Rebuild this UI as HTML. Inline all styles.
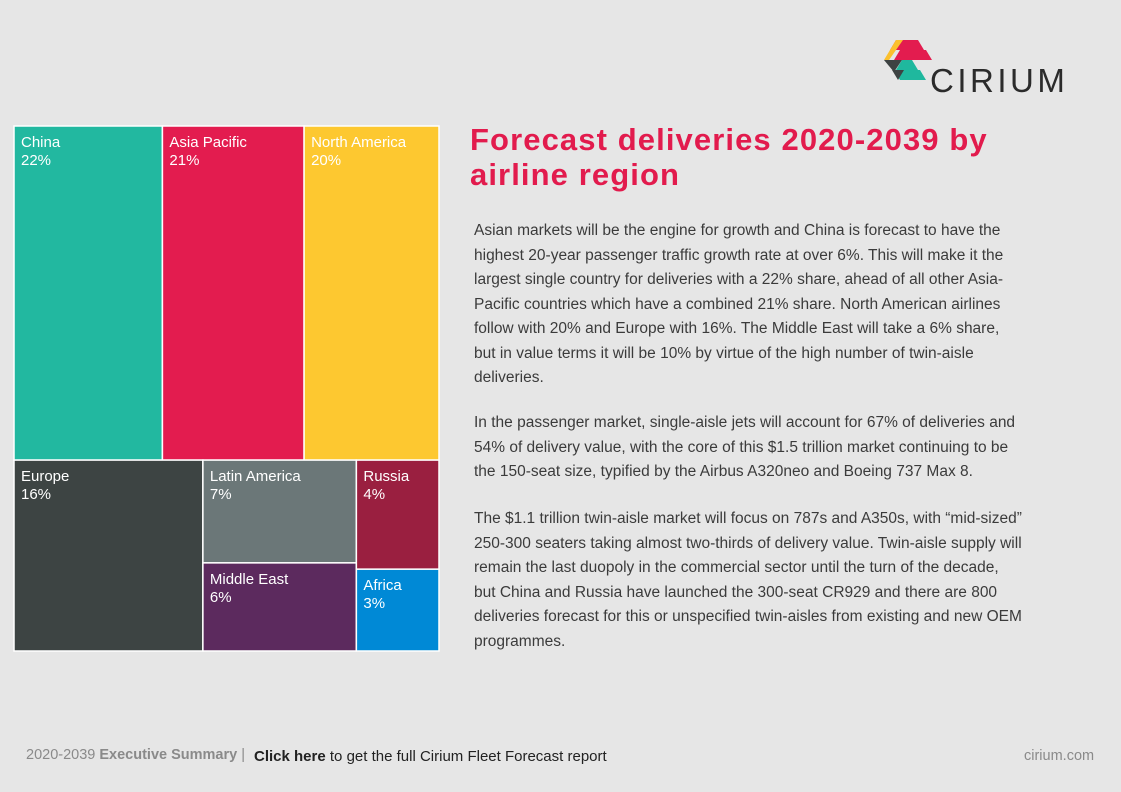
<!DOCTYPE html>
<html><head><meta charset="utf-8">
<style>
body{margin:0;width:1121px;height:792px;background:#e6e6e6;font-family:"Liberation Sans",sans-serif;position:relative;overflow:hidden}
#tm{position:absolute;left:0;top:0}
.t{position:absolute;color:#3a3a3a;white-space:nowrap}
h1{position:absolute;left:470px;top:122px;margin:0;font-size:31px;letter-spacing:1.1px;line-height:35px;color:#e21b4d;font-weight:bold;white-space:nowrap}
.p{position:absolute;left:474px;font-size:15.5px;line-height:24.5px;color:#3b3b3b;white-space:nowrap}
</style></head><body>
<svg id="tm" width="1121" height="792"></svg>

<svg style="position:absolute;left:882px;top:38px" width="54" height="46">
<polygon points="14,2 36,2 42,12 8,12" fill="#e31c4f"/>
<polygon points="14,2 21,2 7,22 2,22" fill="#fbc02d"/>
<polygon points="18,12 44,12 50,22 12,22" fill="#e31c4f"/>
<polygon points="2,22 20,22 12,34" fill="#3d4242"/>
<polygon points="20,22 30,22 36,32 14,32" fill="#1fb89e"/>
<polygon points="12,32 38,32 44,42 18,42" fill="#1fb89e"/>
<polygon points="10,32 22,32 16,42" fill="#3d4242"/>
</svg>
<div class="t" style="left:930px;top:62px;font-size:33px;letter-spacing:3.5px;color:#2b2b2b">CIRIUM</div>

<h1>Forecast deliveries 2020-2039 by<br>airline region</h1>
<div class="p" style="top:219px">Asian markets will be the engine for growth and China is forecast to have the<br>highest 20-year passenger traffic growth rate at over 6%. This will make it the<br>largest single country for deliveries with a 22% share, ahead of all other Asia-<br>Pacific countries which have a combined 21% share. North American airlines<br>follow with 20% and Europe with 16%. The Middle East will take a 6% share,<br>but in value terms it will be 10% by virtue of the high number of twin-aisle<br>deliveries.</div>
<div class="p" style="top:411px">In the passenger market, single-aisle jets will account for 67% of deliveries and<br>54% of delivery value, with the core of this $1.5 trillion market continuing to be<br>the 150-seat size, typified by the Airbus A320neo and Boeing 737 Max 8.</div>
<div class="p" style="top:507px">The $1.1 trillion twin-aisle market will focus on 787s and A350s, with “mid-sized”<br>250-300 seaters taking almost two-thirds of delivery value. Twin-aisle supply will<br>remain the last duopoly in the commercial sector until the turn of the decade,<br>but China and Russia have launched the 300-seat CR929 and there are 800<br>deliveries forecast for this or unspecified twin-aisles from existing and new OEM<br>programmes.</div>

<div class="t" style="left:26px;top:747px;font-size:14.5px;color:#8a8a8a">2020-2039 <b>Executive Summary</b> |</div>
<div class="t" style="left:254px;top:748px;font-size:15px;color:#222"><b>Click here</b> to get the full Cirium Fleet Forecast report</div>
<div class="t" style="left:1024px;top:748px;font-size:14.5px;color:#8a8a8a">cirium.com</div>

<script>
const regions=["China","Asia Pacific","North America","Europe","Latin America","Middle East","Russia","Africa"];
const shares=[22,21,20,16,7,6,4,3];
const colors=["#22b8a0","#e31c4f","#fdc830","#3d4443","#6b7778","#5c2a5e","#9a1f40","#0089d6"];
// layout groups: rows -> columns -> stacked cells (indices into arrays)
const layout=[[[0],[1],[2]],[[3],[4,5],[6,7]]];
const X0=14,Y0=126,W=425,H=525;
const svg=document.getElementById('tm');
const NS='http://www.w3.org/2000/svg';
const total=shares.reduce((a,b)=>a+b,0);
const sum=ix=>ix.reduce((a,i)=>a+shares[i],0);
let y=Y0;
layout.forEach(row=>{
  const rs=row.reduce((a,c)=>a+sum(c),0);
  const rh=H*rs/total;
  let x=X0;
  row.forEach(col=>{
    const cs=sum(col);const cw=W*cs/rs;
    let cy=y;
    col.forEach(i=>{
      const ch=rh*shares[i]/cs;
      const r=document.createElementNS(NS,'rect');
      r.setAttribute('x',x);r.setAttribute('y',cy);r.setAttribute('width',cw);r.setAttribute('height',ch);
      r.setAttribute('fill',colors[i]);r.setAttribute('stroke','#ffffff');r.setAttribute('stroke-width','1.5');
      
      
      svg.appendChild(r);
      [regions[i],shares[i]+'%'].forEach((s,k)=>{
        const t=document.createElementNS(NS,'text');
        t.setAttribute('x',x+7);t.setAttribute('y',cy+21+k*18);
        t.setAttribute('fill','#ffffff');t.setAttribute('font-size','15');
        t.setAttribute('font-family','Liberation Sans, sans-serif');
        t.textContent=s;
        
        
        svg.appendChild(t);
      });
      cy+=ch;
    });
    x+=cw;
  });
  y+=rh;
});
</script>
</body></html>
